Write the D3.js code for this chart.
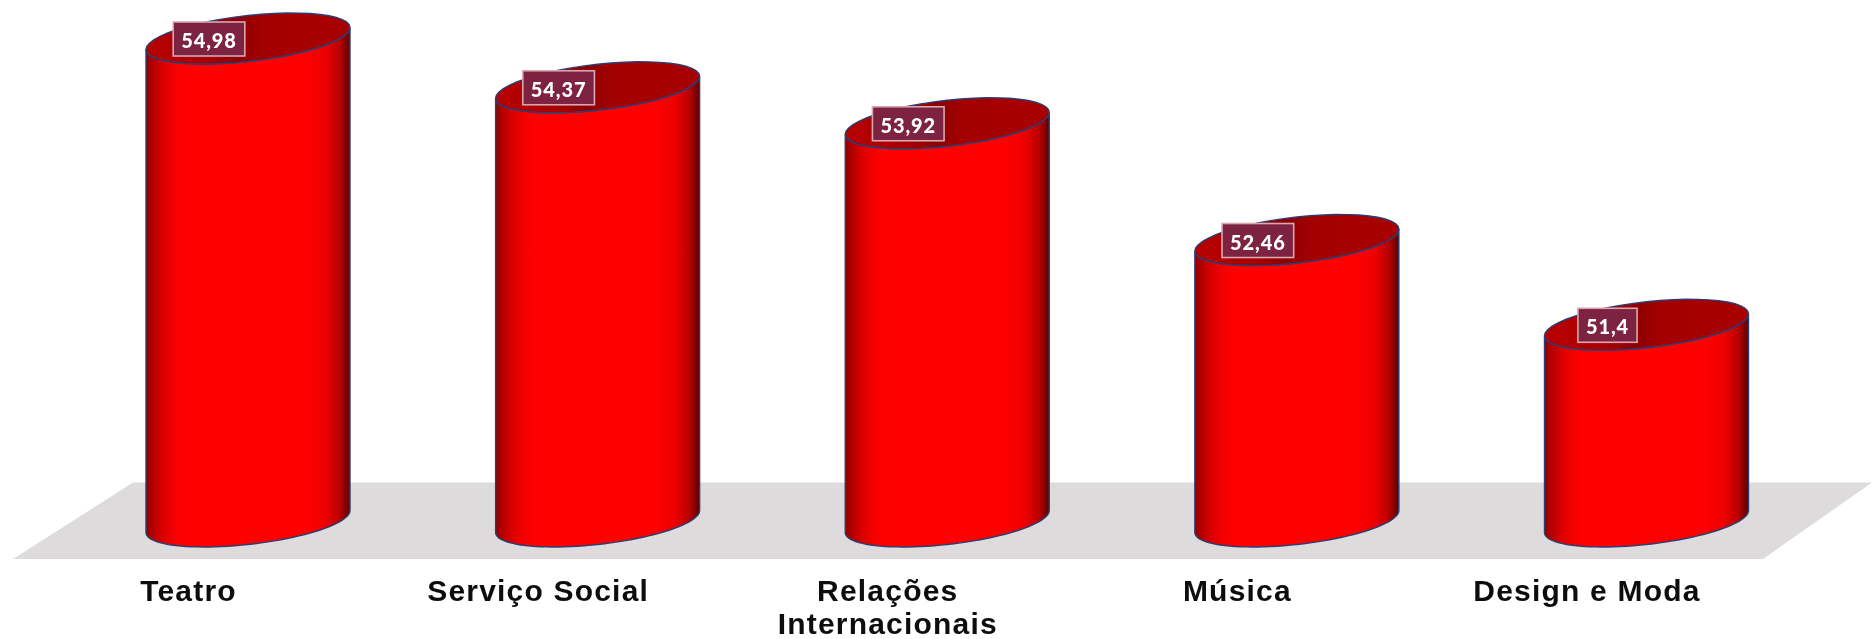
<!DOCTYPE html>
<html><head><meta charset="utf-8">
<script src="https://cdnjs.cloudflare.com/ajax/libs/d3/7.8.5/d3.min.js"></script>
<style>html,body{margin:0;padding:0;background:#fff;overflow:hidden}svg{display:block}</style>
</head><body><svg id="c" width="1872" height="639"></svg>
<script>
const categories = ["Teatro","Serviço Social","Relações\nInternacionais","Música","Design e Moda"];
const values = [54.98,54.37,53.92,52.46,51.4];
const baseValue = 48.94;

const svg = d3.select("#c");
const x = d3.scalePoint().domain(categories).range([248,1646.5]);
const y = d3.scaleLinear().domain([baseValue,54.98]).range([521.5,38.5]);
const rx = 102, skew = -11, ry = 23;
const defs = svg.append("defs");

const body = defs.append("linearGradient").attr("id","body");
[[0,"#8a0000"],[.02,"#a80000"],[.08,"#d80000"],[.15,"#f80000"],[.2,"#ff0000"],[.78,"#ff0000"],[.88,"#ee0000"],[.95,"#b80000"],[1,"#5c0000"]]
  .forEach(s=>body.append("stop").attr("offset",s[0]).attr("stop-color",s[1]));
const inner = defs.append("linearGradient").attr("id","inner");
[[0,"#b80000"],[.3,"#a80000"],[.45,"#8e0000"],[.58,"#a40000"],[1,"#a80000"]]
  .forEach(s=>inner.append("stop").attr("offset",s[0]).attr("stop-color",s[1]));
defs.append("filter").attr("id","soft").attr("x","-5%").attr("y","-5%").attr("width","110%").attr("height","110%")
  .append("feGaussianBlur").attr("stdDeviation",.7);
defs.append("filter").attr("id","softText").attr("x","-10%").attr("y","-30%").attr("width","120%").attr("height","160%")
  .append("feGaussianBlur").attr("stdDeviation",.55);

// floor
svg.append("path").attr("fill","#dddbdc").attr("filter","url(#soft)")
  .attr("d",d3.line()([[13,559],[133,482.5],[1872,482.5],[1763,559]])+"Z");

const pt = (cx,cy,t)=>[cx+rx*Math.cos(t), cy+skew*Math.cos(t)+ry*Math.sin(t)];
const arc = (cx,cy,a,b)=>d3.range(0,49).map(i=>pt(cx,cy,a+(b-a)*i/48));
const line = d3.line();

const g = svg.append("g").selectAll("g").data(categories.map((c,i)=>({c,v:values[i]}))).join("g").attr("filter","url(#soft)");
g.append("path").attr("fill","url(#body)").attr("stroke","#2e3d70").attr("stroke-width",1.4)
  .attr("d",d=>{
    const cx=x(d.c), top=y(d.v), base=y(baseValue);
    return line(arc(cx,base,0,Math.PI).concat(arc(cx,top,Math.PI,0)))+"Z";
  });
g.append("path").attr("fill","url(#inner)").attr("stroke","#2e3d70").attr("stroke-width",1.4)
  .attr("d",d=>line(arc(x(d.c),y(d.v),0,2*Math.PI))+"Z");

// data labels
const lab = svg.append("g").selectAll("g").data(categories.map((c,i)=>({c,v:values[i]}))).join("g")
  .attr("transform",d=>`translate(${x(d.c)-39},${y(d.v)+.5})`);
const txt = lab.append("text").text(d=>String(d.v).replace(".",","))
  .attr("text-anchor","middle").attr("dy","0.35em").attr("y",2).attr("fill","#fff")
  .attr("font-family","Lato").attr("font-weight",900).attr("font-size",20).attr("letter-spacing",.9)
  .attr("filter","url(#softText)");
lab.insert("rect","text").each(function(d){
  const w=this.parentNode.querySelector("text").getComputedTextLength()+16;
  d3.select(this).attr("x",-w/2).attr("width",w);
}).attr("y",-17).attr("height",34).attr("fill","#7d2341").attr("stroke","#d8a8b0").attr("stroke-width",1.6);

// category axis
const axis = svg.append("g").attr("transform","translate(-60,590)")
  .call(d3.axisBottom(x).tickSize(0).tickPadding(0));
axis.select(".domain").remove();
axis.selectAll("text").each(function(d){
  const t=d3.select(this).text(null).attr("y",null).attr("dy",null).attr("fill","#111")
   .attr("font-family","'Liberation Sans'").attr("font-weight",700).attr("font-size",30).attr("letter-spacing",1.2)
   .attr("filter","url(#softText)");
  d.split("\n").forEach((s,i)=>t.append("tspan").attr("x",0).attr("y",11+i*33).text(s));
});
</script></body></html>
